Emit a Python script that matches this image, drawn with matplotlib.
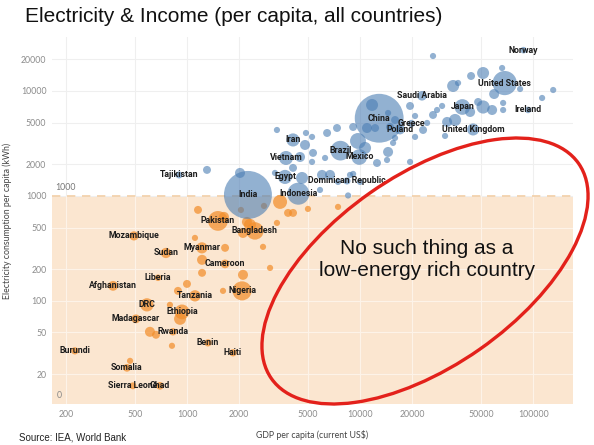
import matplotlib
matplotlib.use("Agg")
import matplotlib.pyplot as plt
from matplotlib.patches import Ellipse
from matplotlib.transforms import IdentityTransform, blended_transform_factory

# ---------------- data ----------------
countries = ["Norway", "United States", "Saudi Arabia", "Japan", "Ireland", "China",
             "Greece", "Poland", "United Kingdom", "Brazil", "Mexico", "Dominican Republic",
             "Iran", "Vietnam", "Egypt", "Indonesia", "India", "Tajikistan",
             "Pakistan", "Bangladesh", "Myanmar", "Mozambique", "Sudan", "Cameroon",
             "Liberia", "Afghanistan", "Tanzania", "Nigeria", "DRC", "Ethiopia",
             "Madagascar", "Rwanda", "Benin", "Haiti", "Burundi", "Somalia",
             "Sierra Leone", "Chad"]
gdp = [88000, 68500, 22800, 39000, 93500, 12900,
       19800, 17000, 45000, 7700, 9900, 8400,
       4100, 3735, 3685, 4400, 2250, 900,
       1510, 2470, 1220, 494, 756, 1660,
       680, 374, 1112, 2080, 587, 936,
       507, 830, 1322, 1845, 225, 450,
       487, 698]
elec = [24500, 11900, 9000, 7040, 6600, 5500,
        4900, 4300, 4300, 2700, 2350, 1390,
        3415, 2300, 1517, 1050, 1022, 1585,
        578, 464, 320, 416, 286, 225,
        166, 139, 111.6, 124.5, 91.6, 78.5,
        67.4, 50.7, 39.8, 32, 33.4, 23,
        15.5, 15.5]
population = [5, 328, 34, 126, 5, 1400,
              11, 38, 66, 210, 126, 10,
              82, 96, 98, 268, 1350, 9,
              212, 161, 54, 30, 42, 25,
              5, 37, 56, 196, 84, 109,
              26, 12, 11, 11, 11, 15,
              8, 15]

# unlabelled countries
other_gdp = [1305, 3310, 5280, 5350, 6450, 7360, 9730, 12530, 14520, 14320,
             15520, 4500, 4620, 6030, 6710, 7460, 8750, 5870, 8530, 10000,
             5280, 3225, 26400, 66200, 51400, 43800, 36840, 34500, 59550, 84100,
             130600, 112700, 67100, 67100, 57950, 48100, 51400, 43250, 35400, 31840,
             26400, 27860, 29790, 19450, 20790, 24400, 30990, 23130, 20790, 15930,
             14520, 14900, 15930, 9120, 19450, 4870, 4810, 6280, 9120, 11730,
             10970, 12220, 2025, 10690, 4100,
             1112, 1660, 1222, 1222, 2107, 1000, 887, 1615, 797, 912,
             611, 662, 819, 2750, 3020, 3310, 1158, 3450, 4100, 5000,
             2312, 2107, 3837, 7460, 2050, 2785, 469, 1636, 2220]
other_elec = [1770, 4250, 3650, 2570, 3980, 4440, 3340, 2060, 2625, 2200,
              3200, 2350, 1483, 1585, 1585, 1360, 1585, 1140, 1010, 1360,
              2110, 1656, 21540, 16560, 14840, 13900, 11920, 11160, 9360, 10450,
              10220, 8580, 7690, 6590, 6590, 7860, 7040, 6310, 5290, 5070,
              5910, 6590, 7200, 7200, 5780, 4960, 3730, 4250, 3650, 5290,
              6170, 4540, 3570, 4540, 2110, 3980, 3060, 2300, 1620, 7360,
              4440, 4440, 1656, 2865, 1849,
              398, 320, 246, 185, 177, 145, 124.5, 124.5, 91.6, 67.4,
              50.7, 47.5, 37.3, 327, 206, 553, 736, 877, 689, 752,
              530, 444, 689, 786, 735, 803, 26.8, 631, 565]
other_population = [17, 2, 2, 17, 17, 17, 130, 17, 39, 2,
                    2, 39, 65, 39, 39, 2, 2, 2, 2, 2,
                    2, 2, 2, 2, 65, 17, 2, 65, 39, 2,
                    2, 2, 2, 2, 39, 17, 83, 39, 67, 39,
                    17, 2, 2, 17, 2, 2, 2, 17, 2, 17,
                    2, 17, 2, 17, 2, 2, 39, 2, 2, 65,
                    39, 17, 39, 65, 17,
                    2, 17, 39, 17, 39, 17, 17, 2, 2, 65,
                    39, 17, 2, 2, 2, 2, 17, 96, 17, 2,
                    65, 39, 17, 2, 2, 2, 2, 39, 39]

x_ticks = [200, 500, 1000, 2000, 5000, 10000, 20000, 50000, 100000]
y_ticks = [20, 50, 100, 200, 500, 1000, 2000, 5000, 10000, 20000]
threshold = 1000

title = "Electricity & Income (per capita, all countries)"
source = "Source: IEA, World Bank"
x_label = "GDP per capita (current US$)"
y_label = "Electricity consumption per capita (kWh)"
note = "No such thing as a\nlow-energy rich country"

# ---------------- styling ----------------
BLUE = "#4a7db3"
ORANGE = "#f28e2b"
BAND = "#fbe6d0"

def size(p):
    return 18 + 0.87 * p

fig = plt.figure(figsize=(5.94, 4.45), dpi=100)
ax = fig.add_axes([52/594, 1-404/445, (573-52)/594, (404-37)/445])
ax.set_xscale("log")
ax.set_yscale("log")
ax.set_xlim(166, 170000)
ax.set_ylim(10.4, 32700)
ax.set_facecolor("white")

for s in ax.spines.values():
    s.set_visible(False)
ax.tick_params(length=0, labelsize=6.3, labelcolor="#8c8c8c", pad=4)
ax.set_xticks(x_ticks)
ax.set_xticklabels([str(v) for v in x_ticks])
ax.set_yticks(y_ticks)
ax.set_yticklabels([str(v) for v in y_ticks])
ax.minorticks_off()
for lab in ax.get_xticklabels() + ax.get_yticklabels():
    lab.set_family("Lato")

ax.grid(True, color="#efefef", lw=0.8, zorder=0)
ax.set_axisbelow(True)

# reference band 0..1000
ax.axhspan(ax.get_ylim()[0], threshold, color=BAND, zorder=0.5, lw=0)
for xv in x_ticks:
    ax.plot([xv, xv], [ax.get_ylim()[0], threshold], color="#fdf3e8", lw=0.8, zorder=0.6)
for yv in y_ticks:
    if yv < threshold:
        ax.axhline(yv, color="#fdf3e8", lw=0.8, zorder=0.6)
ax.axhline(threshold, color="#f3cfa6", lw=1.2, ls=(0, (5, 4)), zorder=0.7)
btr = blended_transform_factory(ax.transAxes, ax.transData)
ax.text(0.006, threshold * 1.08, "1000", transform=btr, fontsize=6.3, color="#777777",
        family="Lato", va="bottom", ha="left")
ax.text(0.009, 0.012, "0", transform=ax.transAxes, fontsize=6.3, color="#888888",
        family="Lato", va="bottom", ha="left")

all_gdp = other_gdp + gdp
all_elec = other_elec + elec
all_pop = other_population + population
lo = [(g, e, p) for g, e, p in zip(all_gdp, all_elec, all_pop) if e < threshold]
hi = [(g, e, p) for g, e, p in zip(all_gdp, all_elec, all_pop) if e >= threshold]
hi.sort(key=lambda t: -t[2])
lo.sort(key=lambda t: -t[2])
ax.scatter([t[0] for t in lo], [t[1] for t in lo], s=[size(t[2]) for t in lo],
           color=ORANGE, alpha=0.72, lw=0, zorder=2)
ax.scatter([t[0] for t in hi], [t[1] for t in hi], s=[size(t[2]) for t in hi],
           color=BLUE, alpha=0.6, lw=0, zorder=3)

for name, g, e in zip(countries, gdp, elec):
    ax.text(g, e, name, ha="center", va="center", fontsize=6.3, family="Roboto",
            weight="bold", color="#1c1c1c", zorder=4)

ax.set_xlabel(x_label, fontsize=6.3, color="#444444", family="Lato", labelpad=8)
ax.set_ylabel(y_label, fontsize=6.3, color="#444444", family="Lato", labelpad=6)

# annotation ellipse and note (figure pixel coordinates)
ell = Ellipse((425, 445 - 271), 375, 191, angle=35, fill=False, edgecolor="#e3211b",
              lw=2.4, transform=IdentityTransform(), zorder=5)
fig.add_artist(ell)
fig.text(427/594, 1 - 260/445, note, ha="center", va="center", fontsize=15,
         family="Liberation Sans", color="#111111", linespacing=1.2)

fig.text(25/594, 1 - 22/445, title, ha="left", va="baseline", fontsize=15,
         family="Liberation Sans", color="#111111")
fig.text(19/594, 1 - 440/445, source, ha="left", va="baseline", fontsize=7,
         family="Liberation Sans", color="#222222")

fig.savefig("out.png", dpi=100)
